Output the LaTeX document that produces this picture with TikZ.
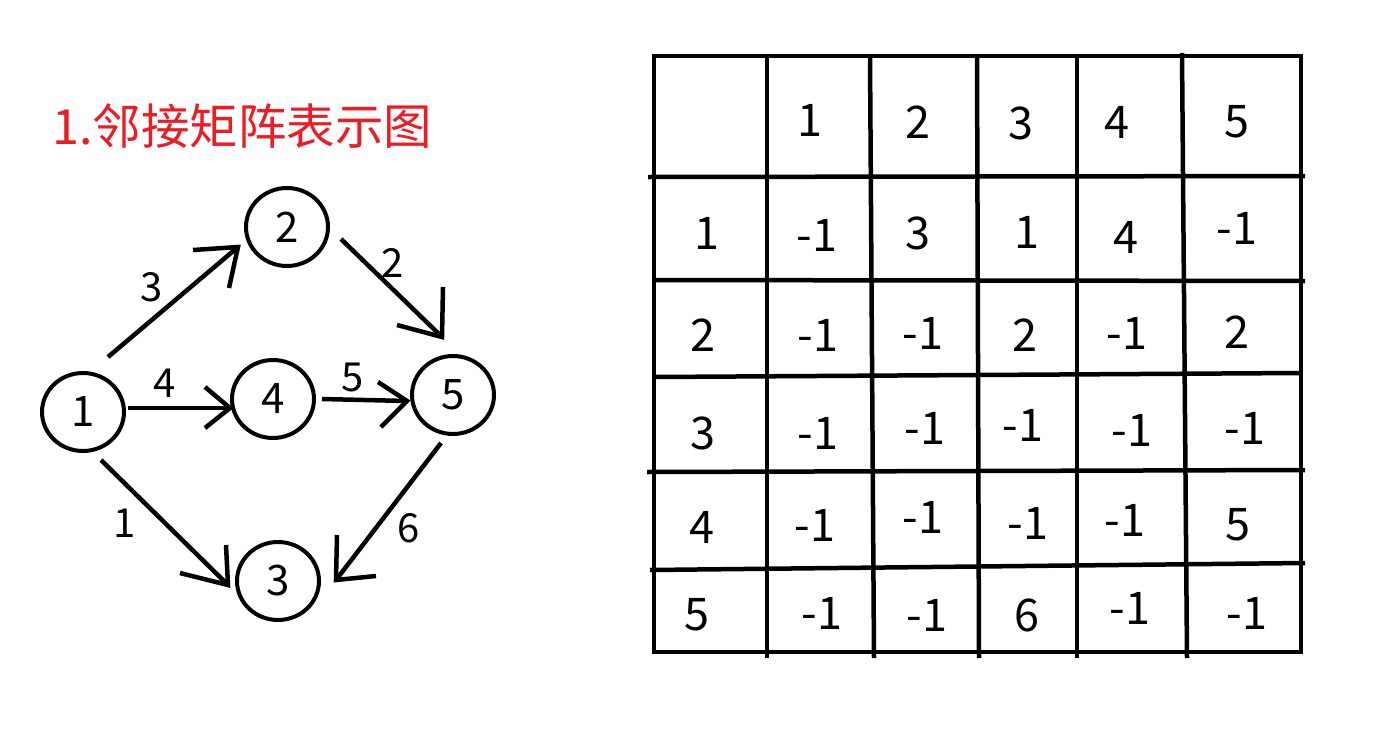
\documentclass[tikz,border=0pt]{standalone}
\usepackage{fontspec}
\setmainfont{Noto Sans CJK SC}
\usetikzlibrary{shapes.geometric,calc}
\definecolor{titlered}{RGB}{237,28,36}
\begin{document}
\begin{tikzpicture}[x=1pt,y=-1pt,
  vtx/.style={draw, ellipse, line width=4pt, minimum width=82pt, minimum height=78pt, inner sep=0pt, font=\fontsize{42}{44}\selectfont},
  edgeline/.style={line width=4.5pt},
  barb/.style={line width=4.5pt, line join=miter},
  elabel/.style={font=\fontsize{40}{42}\selectfont, inner sep=0pt},
  gridline/.style={line width=4.5pt},
  cell/.style={font=\fontsize{45}{47}\selectfont, inner sep=0pt},
]
\useasboundingbox (0,0) rectangle (1373,734);

% title
\node[anchor=base west, inner sep=0pt, text=titlered, font=\fontsize{48.5}{50}\selectfont] (title) at (52,144) {1.邻接矩阵表示图};

% vertices
\node[vtx] (n1) at (83,412) {1};
\node[vtx] (n2) at (287,227) {2};
\node[vtx] (n4) at (273,399) {4};
\node[vtx] (n5) at (453,395) {5};
\node[vtx] (n3) at (278,581) {3};

% edge 1 -> 2
\coordinate (s12) at ($(n1)+(25,-55)$);
\coordinate (t12) at ($(n2)+(-49,20)$);
\draw[edgeline] (s12) -- (t12);
\draw[barb] ($(t12)+(-45,3)$) -- (t12) -- ($(t12)+(-9,41)$);
\node[elabel] (l12) at (152,287) {3};

% edge 2 -> 5
\coordinate (s25) at ($(n2)+(54,12)$);
\coordinate (t25) at ($(n5)+(-11,-58)$);
\draw[edgeline] (s25) -- (t25);
\draw[barb] ($(t25)+(1,-50)$) -- (t25) -- ($(t25)+(-45,-12)$);
\node[elabel] (l25) at (393,263) {2};

% edge 1 -> 4
\coordinate (s14) at ($(n1)+(45,-4)$);
\coordinate (t14) at ($(n4)+(-43,9)$);
\draw[edgeline] (s14) -- (t14);
\draw[barb] ($(t14)+(-25,-21)$) -- (t14) -- ($(t14)+(-25,20)$);
\node[elabel] (l14) at (165,383) {4};

% edge 4 -> 5
\coordinate (s45) at ($(n4)+(49,0)$);
\coordinate (t45) at ($(n5)+(-46,6)$);
\draw[edgeline] (s45) -- (t45);
\draw[barb] ($(t45)+(-29,-19)$) -- (t45) -- ($(t45)+(-26,26)$);
\node[elabel] (l45) at (353,377) {5};

% edge 1 -> 3
\coordinate (s13) at ($(n1)+(18,48)$);
\coordinate (t13) at ($(n3)+(-50,4)$);
\draw[edgeline] (s13) -- (t13);
\draw[barb] ($(t13)+(-2,-40)$) -- (t13) -- ($(t13)+(-48,-12)$);
\node[elabel] (l13) at (125,523) {1};

% edge 5 -> 3
\coordinate (s53) at ($(n5)+(-12,48)$);
\coordinate (t53) at ($(n3)+(58,-1)$);
\draw[edgeline] (s53) -- (t53);
\draw[barb] ($(t53)+(1,-45)$) -- (t53) -- ($(t53)+(40,-4)$);
\node[elabel] (l53) at (409,528) {6};

% table grid
\draw[gridline] (654,56) rectangle (1301,652);
\draw[gridline] (648,177) -- (1305,176);
\draw[gridline] (654,280) -- (1305,281);
\draw[gridline] (654,377) -- (1301,373);
\draw[gridline] (647,472) -- (1305,470);
\draw[gridline] (650,570) -- (1305,563);
\draw[gridline] (767,56) -- (767,658);
\draw[gridline] (870,56) -- (874,658);
\draw[gridline] (977,56) -- (979,658);
\draw[gridline] (1077,56) -- (1077,658);
\draw[gridline] (1182,53) -- (1187,658);

% header row
\node[cell] (h1) at (810,120) {1};
\node[cell] (h2) at (918,122) {2};
\node[cell] (h3) at (1021,123) {3};
\node[cell] (h4) at (1117,122) {4};
\node[cell] (h5) at (1237,122) {5};
% row 1
\node[cell] (r1) at (707,233) {1};
\node[cell] (c11) at (817,235) {-1};
\node[cell] (c12) at (918,233) {3};
\node[cell] (c13) at (1027,232) {1};
\node[cell] (c14) at (1126,237) {4};
\node[cell] (c15) at (1237,228) {-1};
% row 2
\node[cell] (r2) at (703,335) {2};
\node[cell] (c21) at (818,335) {-1};
\node[cell] (c22) at (923,333) {-1};
\node[cell] (c23) at (1025,335) {2};
\node[cell] (c24) at (1127,333) {-1};
\node[cell] (c25) at (1237,332) {2};
% row 3
\node[cell] (r3) at (703,433) {3};
\node[cell] (c31) at (818,433) {-1};
\node[cell] (c32) at (925,428) {-1};
\node[cell] (c33) at (1023,425) {-1};
\node[cell] (c34) at (1132,430) {-1};
\node[cell] (c35) at (1245,428) {-1};
% row 4
\node[cell] (r4) at (702,527) {4};
\node[cell] (c41) at (815,525) {-1};
\node[cell] (c42) at (923,517) {-1};
\node[cell] (c43) at (1028,523) {-1};
\node[cell] (c44) at (1125,520) {-1};
\node[cell] (c45) at (1238,525) {5};
% row 5
\node[cell] (r5) at (697,615) {5};
\node[cell] (c51) at (822,613) {-1};
\node[cell] (c52) at (927,615) {-1};
\node[cell] (c53) at (1027,615) {6};
\node[cell] (c54) at (1130,608) {-1};
\node[cell] (c55) at (1247,613) {-1};
\end{tikzpicture}
\end{document}
